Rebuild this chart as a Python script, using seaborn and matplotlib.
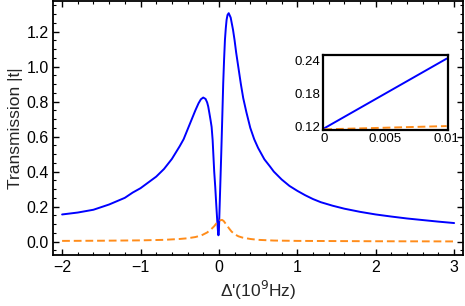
import pandas as pd
import matplotlib
matplotlib.use('Agg')
import matplotlib.pyplot as plt
from matplotlib.ticker import MultipleLocator, FixedLocator, FormatStrFormatter
import seaborn as sns

# main curve, |t| for the probe (blue) and the second field (orange dashed)
detuning_blue = [-2.0, -1.8, -1.6, -1.4, -1.2, -1.1, -1.0, -0.9, -0.8, -0.7, -0.6, -0.5, -0.45,
                 -0.4, -0.35, -0.3, -0.26, -0.23, -0.2, -0.17, -0.15, -0.136, -0.12, -0.105,
                 -0.093, -0.08, -0.07, -0.06, -0.047, -0.035, -0.022, -0.012, -0.006, 0.0,
                 0.004, 0.017, 0.03, 0.042, 0.055, 0.066, 0.077, 0.088, 0.098, 0.11, 0.125,
                 0.15, 0.18, 0.2, 0.22, 0.25, 0.28, 0.31, 0.35, 0.4, 0.45, 0.5, 0.58, 0.65,
                 0.7, 0.8, 0.9, 1.0, 1.1, 1.2, 1.3, 1.45, 1.6, 1.8, 2.0, 2.2, 2.4, 2.6, 2.8, 3.0]
trans_blue = [0.155, 0.166, 0.182, 0.212, 0.25, 0.28, 0.305, 0.338, 0.371, 0.415, 0.472, 0.545, 0.585,
              0.64, 0.695, 0.75, 0.79, 0.813, 0.823, 0.815, 0.795, 0.771, 0.73, 0.69,
              0.655, 0.58, 0.49, 0.40, 0.314, 0.22, 0.124, 0.06, 0.036, 0.06,
              0.124, 0.314, 0.505, 0.695, 0.905, 1.04, 1.153, 1.22, 1.267, 1.295, 1.305,
              1.28, 1.21, 1.15, 1.08, 0.99, 0.9, 0.82, 0.74, 0.65, 0.585, 0.535, 0.47, 0.43,
              0.40, 0.355, 0.318, 0.29, 0.265, 0.243, 0.225, 0.205, 0.188, 0.17, 0.155, 0.143, 0.132, 0.123, 0.114, 0.106]

detuning_orange = [-2.0, -1.5, -1.0, -0.7, -0.5, -0.4, -0.3, -0.22, -0.15, -0.1, -0.06, -0.03, 0.0,
                   0.02, 0.04, 0.06, 0.08, 0.1, 0.13, 0.16, 0.2, 0.25, 0.3, 0.4, 0.5, 0.7, 1.0, 1.5, 2.0, 3.0]
trans_orange = [0.004, 0.005, 0.007, 0.010, 0.015, 0.019, 0.026, 0.036, 0.052, 0.07, 0.088, 0.105, 0.116,
                0.122, 0.124, 0.118, 0.106, 0.094, 0.075, 0.058, 0.042, 0.03, 0.023, 0.015, 0.01, 0.006, 0.004, 0.003, 0.002, 0.001]

# zoomed inset near zero detuning
inset_x = [0.0, 0.0025, 0.005, 0.0075, 0.01]
inset_blue = [0.116, 0.148, 0.180, 0.212, 0.244]
inset_orange = [0.114, 0.1155, 0.117, 0.1185, 0.120]

blue = '#0000FF'
orange = '#FF8C1A'

sns.set_theme(style='ticks')
plt.rcParams['font.family'] = ['Liberation Sans', 'DejaVu Sans']
plt.rcParams['axes.linewidth'] = 1.3

fig = plt.figure(figsize=(4.65, 3.06), dpi=100)
ax = fig.add_axes([0.115, 0.167, 0.881, 0.830])

sns.lineplot(x=detuning_blue, y=trans_blue, ax=ax, color=blue, lw=1.4, sort=False)
sns.lineplot(x=detuning_orange, y=trans_orange, ax=ax, color=orange, lw=1.4, sort=False)
ax.lines[-1].set_dashes([4, 2])

ax.set_xlim(-2.11, 3.115)
ax.set_ylim(-0.076, 1.375)
ax.xaxis.set_major_locator(MultipleLocator(1))
ax.xaxis.set_minor_locator(MultipleLocator(0.2))
ax.yaxis.set_major_locator(MultipleLocator(0.2))
ax.yaxis.set_minor_locator(MultipleLocator(0.05))
ax.yaxis.set_major_formatter(FormatStrFormatter('%.1f'))
ax.tick_params(which='both', direction='in', top=True, right=True, colors='black', labelsize=11.5)
ax.tick_params(which='major', length=4, width=1)
ax.tick_params(which='minor', length=2, width=0.8)
for s in ax.spines.values():
    s.set_color('black')
ax.set_xlabel("Δ'(10$^{9}$Hz)", fontsize=12.5, labelpad=3)
ax.set_ylabel('Transmission |t|', fontsize=12.5, labelpad=2)

# inset
axin = fig.add_axes([0.694, 0.575, 0.270, 0.245])
sns.lineplot(x=inset_x, y=inset_blue, ax=axin, color=blue, lw=1.4)
sns.lineplot(x=inset_x, y=inset_orange, ax=axin, color=orange, lw=1.4)
axin.lines[-1].set_dashes([4, 2])
axin.set_xlim(-0.00013, 0.01013)
axin.set_ylim(0.1127, 0.2505)
axin.xaxis.set_major_locator(FixedLocator([0, 0.005, 0.01]))
axin.yaxis.set_major_locator(FixedLocator([0.12, 0.18, 0.24]))
axin.set_xticklabels(['0', '0.005', '0.01'])
axin.set_yticklabels(['0.12', '0.18', '0.24'])
axin.tick_params(direction='in', length=0, labelsize=9.5, pad=2, colors='black')
for s in axin.spines.values():
    s.set_color('black')
    s.set_linewidth(1.6)

fig.savefig('out.png', dpi=100)
